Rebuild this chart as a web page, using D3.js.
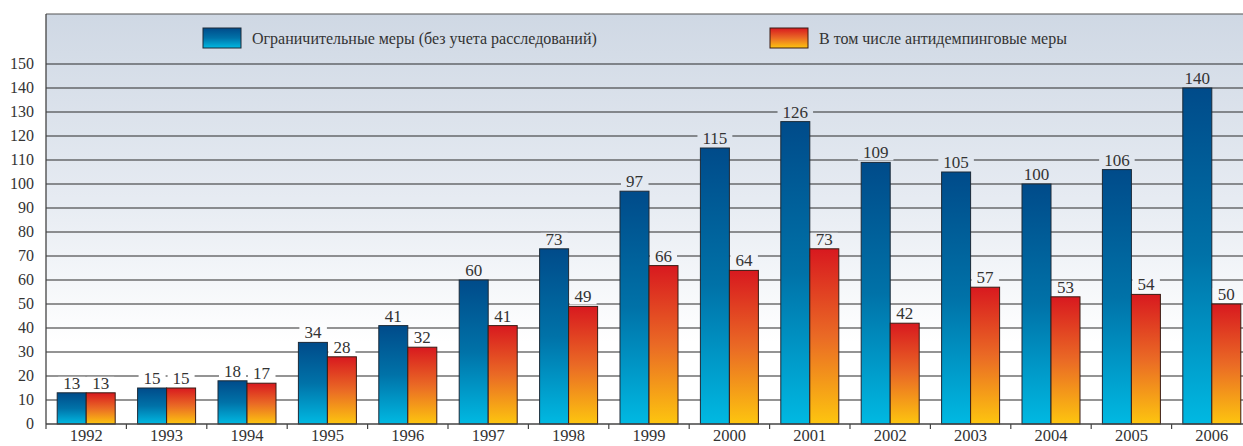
<!DOCTYPE html>
<html>
<head>
<meta charset="utf-8">
<script src="https://cdn.jsdelivr.net/npm/d3@7"></script>
<style>
  body { margin: 0; background: #fff; }
  svg { display: block; font-family: "Liberation Serif", "DejaVu Serif", serif; }
</style>
</head>
<body>
<div id="chart"></div>
<script>
// Data
const years = ["1992", "1993", "1994", "1995", "1996", "1997", "1998", "1999",
               "2000", "2001", "2002", "2003", "2004", "2005", "2006"];
const restrictive = [13, 15, 18, 34, 41, 60, 73, 97, 115, 126, 109, 105, 100, 106, 140];
const antidumping = [13, 15, 17, 28, 32, 41, 49, 66, 64, 73, 42, 57, 53, 54, 50];
const seriesNames = ["Ограничительные меры (без учета расследований)",
                     "В том числе антидемпинговые меры"];
const yTicks = d3.range(0, 151, 10);

const W = 1243, H = 446;
const plotLeft = 46, plotTop = 14, plotBottom = 424;

const svg = d3.select("#chart").append("svg")
  .attr("width", W)
  .attr("height", H);

const defs = svg.append("defs");

// background gradient in page coords so label boxes can reuse it
const bg = defs.append("linearGradient")
  .attr("id", "bg")
  .attr("gradientUnits", "userSpaceOnUse")
  .attr("x1", 0).attr("y1", plotTop).attr("x2", 0).attr("y2", plotBottom);
bg.append("stop").attr("offset", "0").attr("stop-color", "#cfd8e4");
bg.append("stop").attr("offset", "0.45").attr("stop-color", "#e6ebf2");
bg.append("stop").attr("offset", "0.8").attr("stop-color", "#ffffff");
bg.append("stop").attr("offset", "1").attr("stop-color", "#ffffff");

const gradBlue = defs.append("linearGradient")
  .attr("id", "gBlue").attr("x1", 0).attr("y1", 0).attr("x2", 0).attr("y2", 1);
gradBlue.append("stop").attr("offset", "0").attr("stop-color", "#004b8a");
gradBlue.append("stop").attr("offset", "0.5").attr("stop-color", "#0072a8");
gradBlue.append("stop").attr("offset", "1").attr("stop-color", "#00b9e2");

const gradRed = defs.append("linearGradient")
  .attr("id", "gRed").attr("x1", 0).attr("y1", 0).attr("x2", 0).attr("y2", 1);
gradRed.append("stop").attr("offset", "0").attr("stop-color", "#d8191f");
gradRed.append("stop").attr("offset", "0.5").attr("stop-color", "#ea6a25");
gradRed.append("stop").attr("offset", "1").attr("stop-color", "#fdc50f");

// Scales
const x = d3.scaleBand().domain(years).range([plotLeft, plotLeft + 80.4 * years.length]);
const y = d3.scaleLinear().domain([0, 150]).range([plotBottom, plotBottom - 360]);
const barW = 29;

// plot background
svg.append("rect")
  .attr("x", plotLeft).attr("y", plotTop)
  .attr("width", W - plotLeft).attr("height", plotBottom - plotTop)
  .attr("fill", "url(#bg)");

// gridlines
svg.append("g")
  .selectAll("line")
  .data(yTicks.filter(d => d > 0))
  .join("line")
  .attr("x1", plotLeft).attr("x2", W)
  .attr("y1", d => y(d)).attr("y2", d => y(d))
  .attr("stroke", "#2b2b2b")
  .attr("stroke-width", 1.2);

// top frame line
svg.append("line")
  .attr("x1", plotLeft).attr("x2", W)
  .attr("y1", plotTop).attr("y2", plotTop)
  .attr("stroke", "#555").attr("stroke-width", 1.2);

// Y tick labels
svg.append("g")
  .selectAll("text")
  .data(yTicks)
  .join("text")
  .attr("x", 34)
  .attr("y", d => y(d))
  .attr("dy", "0.34em")
  .attr("text-anchor", "end")
  .attr("font-size", 16)
  .attr("fill", "#333")
  .text(d => d);

// bars
const groups = svg.append("g")
  .selectAll("g")
  .data(years)
  .join("g")
  .attr("transform", d => `translate(${x(d) + x.bandwidth() / 2} 0)`);

groups.append("rect")
  .attr("x", -barW)
  .attr("y", (d, i) => y(restrictive[i]))
  .attr("width", barW)
  .attr("height", (d, i) => plotBottom - y(restrictive[i]))
  .attr("fill", "url(#gBlue)")
  .attr("stroke", "#1c2a38")
  .attr("stroke-width", 1);

groups.append("rect")
  .attr("x", 0)
  .attr("y", (d, i) => y(antidumping[i]))
  .attr("width", barW)
  .attr("height", (d, i) => plotBottom - y(antidumping[i]))
  .attr("fill", "url(#gRed)")
  .attr("stroke", "#3a1c14")
  .attr("stroke-width", 1);

// value labels with a box that hides the gridline behind them
function addLabel(g, cx, v) {
  const t = g.append("text")
    .attr("x", cx)
    .attr("y", y(v) - 4)
    .attr("text-anchor", "middle")
    .attr("font-size", 17)
    .attr("fill", "#333")
    .text(v);
  const b = t.node().getBBox();
  g.insert("rect", "text")
    .attr("x", b.x - 5).attr("y", b.y + 3)
    .attr("width", b.width + 10).attr("height", b.height - 5)
    .attr("fill", "url(#bg)");
}
// rects must be in page coords for the bg gradient, so use a separate layer
const labelLayer = svg.append("g");
years.forEach((yr, i) => {
  const cx = x(yr) + x.bandwidth() / 2;
  addLabel(labelLayer.append("g"), cx - barW / 2, restrictive[i]);
  addLabel(labelLayer.append("g"), cx + barW / 2, antidumping[i]);
});

// axes lines
svg.append("line")
  .attr("x1", plotLeft).attr("x2", plotLeft)
  .attr("y1", plotTop).attr("y2", plotBottom)
  .attr("stroke", "#444").attr("stroke-width", 1.3);

const xAxis = svg.append("g")
  .attr("transform", `translate(0 ${plotBottom})`);
xAxis.append("line")
  .attr("x1", plotLeft).attr("x2", W)
  .attr("stroke", "#444").attr("stroke-width", 1.3);
xAxis.selectAll(".tick")
  .data(years)
  .join("line")
  .attr("class", "tick")
  .attr("x1", d => x(d)).attr("x2", d => x(d))
  .attr("y1", 0).attr("y2", 5)
  .attr("stroke", "#444").attr("stroke-width", 1.2);
xAxis.selectAll(".yl")
  .data(years)
  .join("text")
  .attr("class", "yl")
  .attr("x", d => x(d) + x.bandwidth() / 2)
  .attr("y", 17)
  .attr("text-anchor", "middle")
  .attr("font-size", 16.5)
  .attr("fill", "#333")
  .text(d => d);

// legend
const legendX = [203, 770];
const legendFill = ["url(#gBlue)", "url(#gRed)"];
const legendStroke = ["#1c2a38", "#3a1c14"];
seriesNames.forEach((name, i) => {
  const lg = svg.append("g").attr("transform", `translate(${legendX[i]} 28)`);
  lg.append("rect")
    .attr("width", 38).attr("height", 20)
    .attr("fill", legendFill[i])
    .attr("stroke", legendStroke[i]).attr("stroke-width", 1);
  lg.append("text")
    .attr("x", 49).attr("y", 10)
    .attr("dy", "0.35em")
    .attr("font-size", 16)
    .attr("fill", "#333")
    .text(name);
});
</script>
</body>
</html>
